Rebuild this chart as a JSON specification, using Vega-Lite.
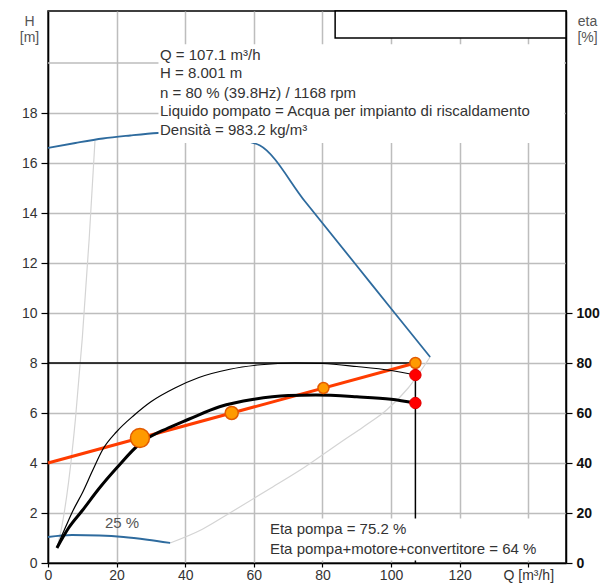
{
  "$schema": "https://vega.github.io/schema/vega-lite/v6.json",
  "width": 518,
  "height": 552,
  "autosize": {"type": "none"},
  "padding": {"left": 48, "top": 11, "right": 47, "bottom": 23},
  "background": "white",
  "config": {
    "view": {"stroke": "black", "strokeWidth": 1.5},
    "font": "Liberation Sans",
    "axis": {
      "labelFont": "Liberation Sans",
      "titleFont": "Liberation Sans",
      "labelFontSize": 14,
      "labelColor": "#333333",
      "domainColor": "black",
      "domainWidth": 1.5,
      "tickColor": "black",
      "tickWidth": 1.2,
      "gridColor": "#bdbdbd",
      "gridWidth": 1.5,
      "gridOpacity": 1
    }
  },
  "datasets": {
    "grid20": [{"H": 20}],
    "eta_tot": [
      {"Q": 2.6, "eta": 6}, {"Q": 6, "eta": 14}, {"Q": 10, "eta": 21}, {"Q": 15, "eta": 30},
      {"Q": 20, "eta": 38}, {"Q": 27, "eta": 48}, {"Q": 35, "eta": 54}, {"Q": 41, "eta": 57.5},
      {"Q": 50, "eta": 62.5}, {"Q": 60, "eta": 65.5}, {"Q": 70, "eta": 67}, {"Q": 78, "eta": 67.2},
      {"Q": 90, "eta": 66.5}, {"Q": 100, "eta": 65.5}, {"Q": 107.1, "eta": 64}
    ],
    "eta_pump": [
      {"Q": 2.6, "eta": 6.5}, {"Q": 5, "eta": 14}, {"Q": 7.3, "eta": 21}, {"Q": 10, "eta": 28},
      {"Q": 13, "eta": 37}, {"Q": 16, "eta": 45.5}, {"Q": 20, "eta": 52.5}, {"Q": 25, "eta": 59},
      {"Q": 30, "eta": 64.5}, {"Q": 37, "eta": 70}, {"Q": 44, "eta": 74.2}, {"Q": 53, "eta": 77.5},
      {"Q": 62, "eta": 79.3}, {"Q": 72, "eta": 80}, {"Q": 80, "eta": 79.8}, {"Q": 90, "eta": 78.6},
      {"Q": 100, "eta": 77}, {"Q": 107.1, "eta": 75.2}
    ],
    "gray_min": [
      {"Q": 2.6, "H": 0.61}, {"Q": 4, "H": 1.44}, {"Q": 6, "H": 3.24}, {"Q": 8, "H": 5.76},
      {"Q": 10, "H": 9.0}, {"Q": 12, "H": 12.96}, {"Q": 13.7, "H": 16.9}
    ],
    "gray_end": [
      {"Q": 35.6, "H": 0.8}, {"Q": 45, "H": 1.35}, {"Q": 53, "H": 2.0}, {"Q": 65, "H": 3.0},
      {"Q": 75, "H": 3.85}, {"Q": 85, "H": 4.8}, {"Q": 92, "H": 5.45}, {"Q": 98.7, "H": 6.12},
      {"Q": 105, "H": 7.0}, {"Q": 111.4, "H": 8.24}
    ],
    "blue_max": [
      {"Q": 0, "H": 16.6}, {"Q": 8, "H": 16.8}, {"Q": 16, "H": 16.98}, {"Q": 24, "H": 17.1},
      {"Q": 32, "H": 17.2}, {"Q": 40, "H": 17.25}, {"Q": 48, "H": 17.15}, {"Q": 55, "H": 16.95},
      {"Q": 61.8, "H": 16.7}, {"Q": 75, "H": 14.45}, {"Q": 90, "H": 11.89}, {"Q": 100, "H": 10.18},
      {"Q": 111.4, "H": 8.24}
    ],
    "blue_25": [
      {"Q": 0, "H": 1.04}, {"Q": 7, "H": 1.12}, {"Q": 15, "H": 1.1}, {"Q": 22, "H": 1.04},
      {"Q": 29, "H": 0.93}, {"Q": 35.6, "H": 0.8}
    ],
    "hline": [{"Q": 0, "Q2": 107.1, "H": 8}],
    "vline": [{"Q": 107.1, "H": 0, "H2": 8}],
    "control": [{"Q": 0, "H": 4}, {"Q": 107.1, "H": 8}],
    "boxes": [
      {"Q": 32.2, "Q2": 150.5, "H": 16.8, "H2": 20.75},
      {"Q": 63.5, "Q2": 150.5, "H": 0.1, "H2": 1.78}
    ],
    "legendbox": [{"Q": 83.7, "Q2": 151, "H": 21.0, "H2": 22.08}],
    "opoints": [
      {"Q": 26.8, "H": 5.0}, {"Q": 53.55, "H": 6.0}, {"Q": 80.3, "H": 7.0}, {"Q": 107.1, "H": 8.0}
    ],
    "reddots": [{"Q": 107.1, "H": 7.52}, {"Q": 107.1, "H": 6.4}],
    "info": [
      {"Q": 32.65, "H": 20.32, "label": "Q = 107.1 m³/h"},
      {"Q": 32.65, "H": 19.59, "label": "H = 8.001 m"},
      {"Q": 32.65, "H": 18.81, "label": "n = 80 % (39.8Hz) / 1168 rpm"},
      {"Q": 32.65, "H": 18.08, "label": "Liquido pompato = Acqua per impianto di riscaldamento"},
      {"Q": 32.65, "H": 17.32, "label": "Densità = 983.2 kg/m³"}
    ],
    "etatext": [
      {"Q": 64.7, "H": 1.36, "label": "Eta pompa = 75.2 %"},
      {"Q": 64.7, "H": 0.56, "label": "Eta pompa+motore+convertitore = 64 %"}
    ],
    "speed": [{"Q": 21.6, "H": 1.6, "label": "25 %"}]
  },
  "layer": [
    {
      "layer": [
        {
          "data": {"name": "grid20"},
          "mark": {"type": "rule", "stroke": "#bdbdbd", "strokeWidth": 1.5},
          "encoding": {
            "y": {"field": "H", "type": "quantitative", "scale": {"domain": [0, 22.08], "nice": false, "zero": false},
              "axis": {"orient": "left", "values": [0, 2, 4, 6, 8, 10, 12, 14, 16, 18], "grid": true, "tickSize": 7, "labelPadding": 4,
                "title": ["H", "[m]"], "titleAngle": 0, "titleX": -19, "titleY": 3, "titleAlign": "center", "titleBaseline": "top", "titleFontSize": 14, "titleFontWeight": "normal", "titleColor": "#555555", "titleLineHeight": 16}}
          }
        },
        {
          "data": {"name": "gray_min"},
          "mark": {"type": "line", "color": "#d4d4d4", "strokeWidth": 1.2, "interpolate": "monotone"},
          "encoding": {
            "x": {"field": "Q", "type": "quantitative", "scale": {"domain": [0, 151], "nice": false, "zero": false},
              "axis": {"orient": "bottom", "values": [0, 20, 40, 60, 80, 100, 120, 140], "labelExpr": "datum.value == 140 ? 'Q [m³/h]' : datum.label", "grid": true, "title": null, "tickSize": 4, "labelPadding": 1, "labelFlush": false}},
            "y": {"field": "H", "type": "quantitative"}
          }
        },
        {
          "data": {"name": "gray_end"},
          "mark": {"type": "line", "color": "#d4d4d4", "strokeWidth": 1.2, "interpolate": "monotone"},
          "encoding": {"x": {"field": "Q", "type": "quantitative"}, "y": {"field": "H", "type": "quantitative"}}
        },
        {
          "data": {"name": "blue_max"},
          "mark": {"type": "line", "color": "#2e6b9e", "strokeWidth": 1.8, "interpolate": "monotone"},
          "encoding": {"x": {"field": "Q", "type": "quantitative"}, "y": {"field": "H", "type": "quantitative"}}
        },
        {
          "data": {"name": "blue_25"},
          "mark": {"type": "line", "color": "#2e6b9e", "strokeWidth": 1.8, "interpolate": "monotone"},
          "encoding": {"x": {"field": "Q", "type": "quantitative"}, "y": {"field": "H", "type": "quantitative"}}
        },
        {
          "data": {"name": "hline"},
          "mark": {"type": "rule", "color": "black", "strokeWidth": 1.5},
          "encoding": {"x": {"field": "Q", "type": "quantitative"}, "x2": {"field": "Q2"}, "y": {"field": "H", "type": "quantitative"}}
        },
        {
          "data": {"name": "vline"},
          "mark": {"type": "rule", "color": "black", "strokeWidth": 1.5},
          "encoding": {"x": {"field": "Q", "type": "quantitative"}, "y": {"field": "H", "type": "quantitative"}, "y2": {"field": "H2"}}
        },
        {
          "data": {"name": "control"},
          "mark": {"type": "line", "color": "#ff3c00", "strokeWidth": 3},
          "encoding": {"x": {"field": "Q", "type": "quantitative"}, "y": {"field": "H", "type": "quantitative"}}
        },
        {
          "data": {"name": "boxes"},
          "mark": {"type": "rect", "fill": "white", "strokeWidth": 0},
          "encoding": {"x": {"field": "Q", "type": "quantitative"}, "x2": {"field": "Q2"}, "y": {"field": "H", "type": "quantitative"}, "y2": {"field": "H2"}}
        },
        {
          "data": {"name": "legendbox"},
          "mark": {"type": "rect", "fill": "white", "stroke": "black", "strokeWidth": 1.5},
          "encoding": {"x": {"field": "Q", "type": "quantitative"}, "x2": {"field": "Q2"}, "y": {"field": "H", "type": "quantitative"}, "y2": {"field": "H2"}}
        },
        {
          "data": {"name": "info"},
          "mark": {"type": "text", "align": "left", "baseline": "middle", "fontSize": 15, "font": "Liberation Sans", "color": "#333333"},
          "encoding": {"x": {"field": "Q", "type": "quantitative"}, "y": {"field": "H", "type": "quantitative"}, "text": {"field": "label"}}
        },
        {
          "data": {"name": "etatext"},
          "mark": {"type": "text", "align": "left", "baseline": "middle", "fontSize": 15, "font": "Liberation Sans", "color": "#333333"},
          "encoding": {"x": {"field": "Q", "type": "quantitative"}, "y": {"field": "H", "type": "quantitative"}, "text": {"field": "label"}}
        },
        {
          "data": {"name": "speed"},
          "mark": {"type": "text", "align": "center", "baseline": "middle", "fontSize": 15, "font": "Liberation Sans", "color": "#555555"},
          "encoding": {"x": {"field": "Q", "type": "quantitative"}, "y": {"field": "H", "type": "quantitative"}, "text": {"field": "label"}}
        }
      ]
    },
    {
      "layer": [
        {
          "data": {"name": "eta_tot"},
          "mark": {"type": "line", "color": "black", "strokeWidth": 3, "interpolate": "monotone"},
          "encoding": {
            "x": {"field": "Q", "type": "quantitative"},
            "y": {"field": "eta", "type": "quantitative", "scale": {"domain": [0, 220.8], "nice": false, "zero": false},
              "axis": {"orient": "right", "values": [0, 20, 40, 60, 80, 100], "grid": false, "tickSize": 6, "labelPadding": 4, "labelFontWeight": "bold", "labelColor": "#111111", "labelFontSize": 14,
                "title": ["eta", "[%]"], "titleAngle": 0, "titleX": 21, "titleY": 3, "titleAlign": "center", "titleBaseline": "top", "titleFontSize": 14, "titleFontWeight": "normal", "titleColor": "#555555", "titleLineHeight": 16}}
          }
        },
        {
          "data": {"name": "eta_pump"},
          "mark": {"type": "line", "color": "black", "strokeWidth": 1.2, "interpolate": "monotone"},
          "encoding": {
            "x": {"field": "Q", "type": "quantitative"},
            "y": {"field": "eta", "type": "quantitative"}
          }
        }
      ]
    },
    {
      "layer": [
        {
          "data": {"name": "opoints"},
          "mark": {"type": "point", "shape": "circle", "filled": true, "fill": "#ff9a00", "stroke": "#e25a00", "strokeWidth": 1.5, "opacity": 1},
          "encoding": {
            "x": {"field": "Q", "type": "quantitative"},
            "y": {"field": "H", "type": "quantitative", "scale": {"domain": [0, 22.08], "nice": false, "zero": false}, "axis": null},
            "size": {"condition": [{"test": "datum.Q < 30", "value": 360}, {"test": "datum.Q < 60", "value": 170}], "value": 120}
          }
        },
        {
          "data": {"name": "reddots"},
          "mark": {"type": "point", "shape": "circle", "filled": true, "fill": "#ff0000", "stroke": "#e00000", "strokeWidth": 1, "size": 130, "opacity": 1},
          "encoding": {"x": {"field": "Q", "type": "quantitative"}, "y": {"field": "H", "type": "quantitative", "axis": null}}
        }
      ]
    }
  ],
  "resolve": {"scale": {"y": "independent"}}
}
